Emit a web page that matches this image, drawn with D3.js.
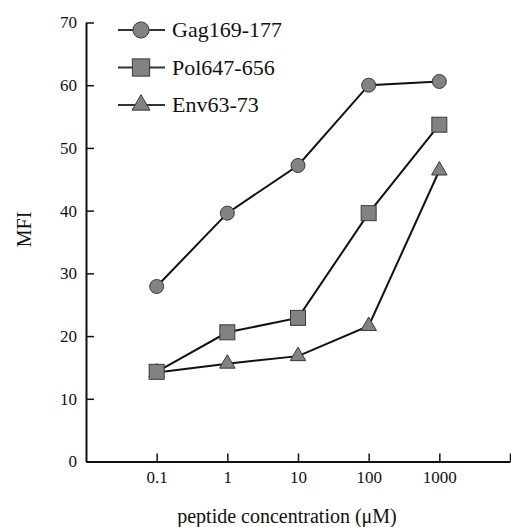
<!DOCTYPE html>
<html>
<head>
<meta charset="utf-8">
<script src="https://cdn.jsdelivr.net/npm/d3@7"></script>
<style>
  body { margin: 0; background: #fff; }
  svg { display: block; font-family: "Liberation Serif", "Times New Roman", serif; }
</style>
</head>
<body>
<svg id="chart" width="511" height="527"></svg>
<script>
// concentrations (uM) and MFI
const concentrations = [0.1, 1, 10, 100, 1000];
const seriesNames = ['Gag169-177', 'Pol647-656', 'Env63-73'];
const gagValues = [27.9, 39.6, 47.2, 60.0, 60.6];
const polValues = [14.3, 20.6, 22.9, 39.6, 53.7];
const envValues = [14.2, 15.6, 16.8, 21.6, 46.4];
const xTickLabels = ['0.1', '1', '10', '100', '1000'];
const yTicks = [0, 10, 20, 30, 40, 50, 60, 70];

const seriesValues = [gagValues, polValues, envValues];
const markerShapes = ['circle', 'square', 'triangle'];

const svg = d3.select('#chart');

/** scales */
const x = d3.scaleLog().domain([0.01, 10000]).range([86, 510]);
const y = d3.scaleLinear().domain([0, 70]).range([461.5, 22.5]);

const markerFill = '#828282';
const markerStroke = '#3a3a3a';

/** draw one marker centred at 0,0 */
const drawMarker = (g, shape, s) => {
    if (shape === 'circle') {
        g.append('circle').attr('r', 7 * s);
    } else if (shape === 'square') {
        g.append('rect')
            .attr('x', -7.5 * s).attr('y', -7.5 * s)
            .attr('width', 15 * s).attr('height', 15 * s);
    } else {
        g.append('path')
            .attr('d', d3.symbol().type(d3.symbolTriangle).size(105 * s * s)());
    }
    g.selectAll('*')
        .attr('fill', markerFill)
        .attr('stroke', markerStroke)
        .attr('stroke-width', 1);
};

/** x axis */
const xAxis = d3.axisBottom(x)
    .tickValues([...concentrations, 10000])
    .tickFormat((d, i) => i < xTickLabels.length ? xTickLabels[i] : '')
    .tickSizeInner(-8)
    .tickSizeOuter(0)
    .tickPadding(9);

const gx = svg.append('g')
    .attr('transform', `translate(0,${y(0)})`)
    .call(xAxis);

/** y axis */
const yAxis = d3.axisLeft(y)
    .tickValues(yTicks)
    .tickSizeInner(-8)
    .tickSizeOuter(0)
    .tickPadding(9);

const gy = svg.append('g')
    .attr('transform', `translate(${x(0.01)},0)`)
    .call(yAxis);

[gx, gy].forEach((g) => {
    g.select('.domain').attr('stroke', '#111').attr('stroke-width', 2);
    g.selectAll('.tick line').attr('stroke', '#111').attr('stroke-width', 1.5);
    g.selectAll('.tick text')
        .attr('font-family', '"Liberation Serif", serif')
        .attr('font-size', 17)
        .attr('fill', '#111');
});

/** axis titles */
svg.append('text')
    .attr('x', 287)
    .attr('y', 523)
    .attr('text-anchor', 'middle')
    .attr('font-size', 20)
    .attr('fill', '#111')
    .text('peptide concentration (\u03bcM)');

svg.append('text')
    .attr('transform', `translate(31,${y(37)}) rotate(-90)`)
    .attr('text-anchor', 'middle')
    .attr('font-size', 20)
    .attr('fill', '#111')
    .text('MFI');

/** lines and markers, back series drawn first */
const line = d3.line()
    .x((d, i) => x(concentrations[i]))
    .y((d) => y(d));

for (let k = seriesValues.length - 1; k >= 0; k--) {
    svg.append('path')
        .datum(seriesValues[k])
        .attr('d', line)
        .attr('fill', 'none')
        .attr('stroke', '#111')
        .attr('stroke-width', 2);
}

for (let k = seriesValues.length - 1; k >= 0; k--) {
    seriesValues[k].forEach((v, i) => {
        const g = svg.append('g')
            .attr('transform', `translate(${x(concentrations[i])},${y(v)})`);
        drawMarker(g, markerShapes[k], 1);
    });
}

/** legend */
const legend = svg.append('g');
seriesNames.forEach((name, k) => {
    const row = legend.append('g')
        .attr('transform', `translate(0,${30 + k * 37.5})`);
    row.append('line')
        .attr('x1', 118).attr('x2', 165)
        .attr('stroke', '#333').attr('stroke-width', 2);
    const m = row.append('g').attr('transform', 'translate(141,0)');
    drawMarker(m, markerShapes[k], 1.15);
    row.append('text')
        .attr('x', 172)
        .attr('y', 7)
        .attr('font-size', 22)
        .attr('fill', '#111')
        .text(name);
});
</script>
</body>
</html>
